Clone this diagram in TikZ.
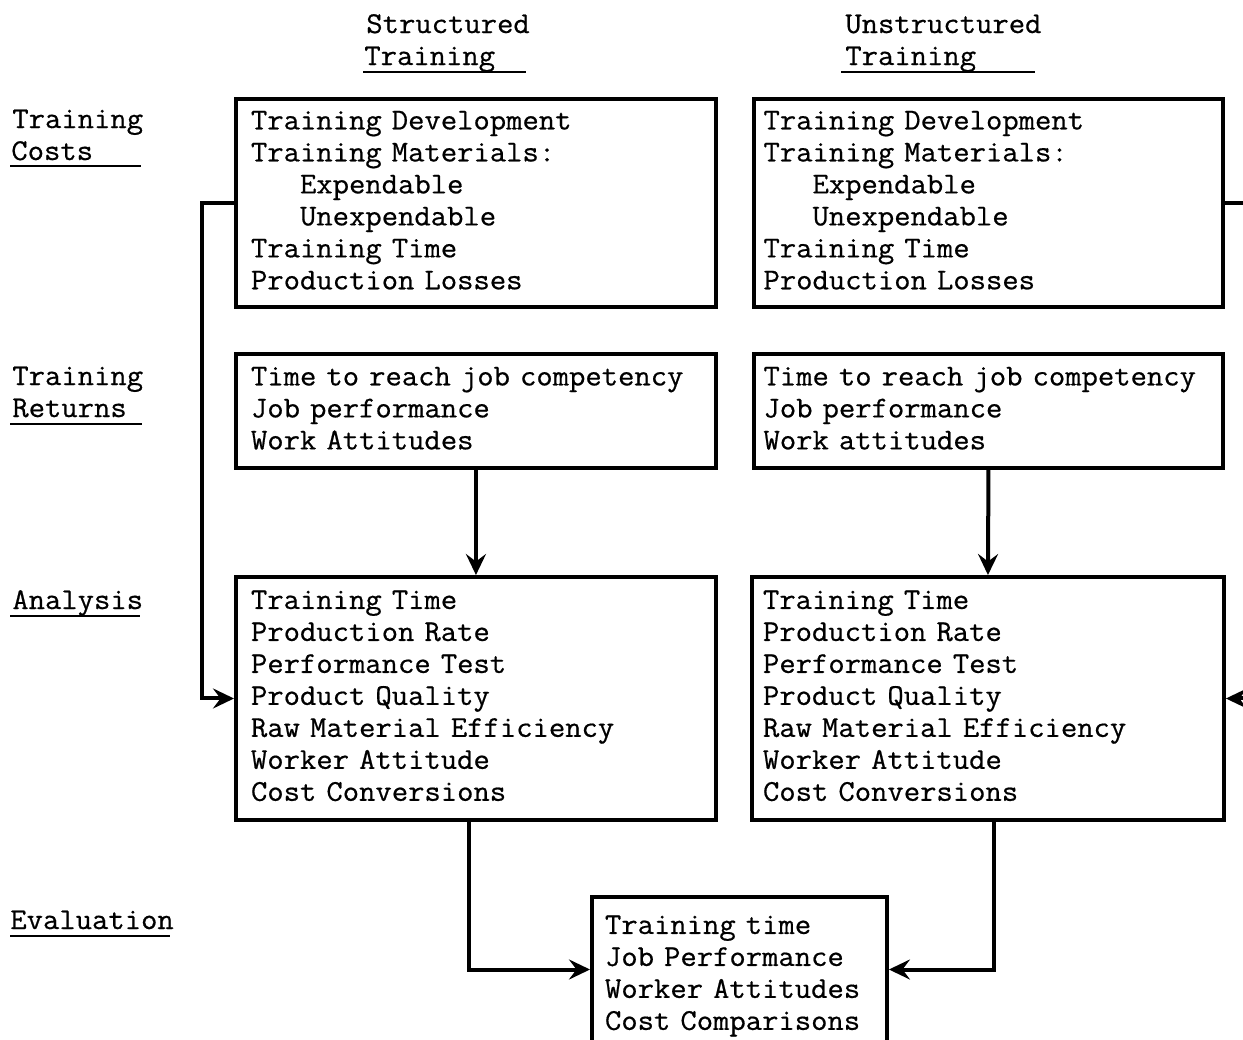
\documentclass[tikz,border=0pt]{standalone}
\usepackage{fontspec}
\setmonofont{Latin Modern Mono}[FakeBold=0.6, FakeStretch=1.05]
\usetikzlibrary{arrows.meta, positioning}
\newcommand\typewriter{\ttfamily\fontsize{17.2}{18.2}\selectfont\spaceskip=0.55em\relax}

\begin{document}
\begin{tikzpicture}[
		x=0.02cm, y=-0.02cm,
		every node/.style={font=\typewriter},
		box/.style={draw, line width=0.08cm, anchor=north west, align=left, inner ysep=0pt,
			execute at begin node=\strut, execute at end node=\strut},
		side/.style={anchor=base west, inner sep=0pt},
		uline/.style={line width=0.045cm},
		wire/.style={line width=0.08cm},
		arrow/.style={-{Stealth[length=0.42cm, width=0.4cm, inset=0.15cm]}, line width=0.08cm}
	]
	\useasboundingbox (0,0) rectangle (1243,1039);
	\clip (0,0) rectangle (1243,1039);

		% Column heads
		\node[side] (shead) at (366,33) {Structured};
		\node[side] (strain) at (364,65) {Training};
		\node[side] (uhead) at (845,33) {Unstructured};
		\node[side] (utrain) at (845,65) {Training};

		% Row labels
		\node[side] (costa) at (12,128) {Training};
		\node[side] (costb) at (11,160) {Costs};
		\node[side] (reta) at (12,385) {Training};
		\node[side] (retb) at (12,417) {Returns};
		\node[side] (ana) at (12,609) {Analysis};
		\node[side] (eva) at (10,929) {Evaluation};

		% Underlines
		\draw[uline] ([shift={(-1,7)}]strain.base west) -- ++(163,0);
		\draw[uline] ([shift={(-4,7)}]utrain.base west) -- ++(194,0);
		\draw[uline] ([shift={(-1,6)}]costb.base west) -- ++(131,0);
		\draw[uline] ([shift={(-2,7)}]retb.base west) -- ++(132,0);
		\draw[uline] ([shift={(-2,7)}]ana.base west) -- ++(130,0);
		\draw[uline] ([shift={(0,7)}]eva.base west) -- ++(160,0);

		% Boxes
		\node[box, text width=9cm, inner xsep=0.3cm, minimum height=4.16cm] (scost) at (234,97)
			{Training Development\\Training Materials:\\\phantom{xxx}Expendable\\\phantom{xxx}Unexpendable\\Training Time\\Production Losses};
		\node[box, text width=9cm, inner xsep=0.19cm, minimum height=4.16cm] (ucost) at (752,97)
			{Training Development\\Training Materials:\\\phantom{xxx}Expendable\\\phantom{xxx}Unexpendable\\Training Time\\Production Losses};
		\node[box, text width=9cm, inner xsep=0.3cm, minimum height=2.28cm] (sret) at (234,352)
			{\mbox{Time to reach job competency}\\Job performance\\Work Attitudes};
		\node[box, text width=9cm, inner xsep=0.19cm, minimum height=2.28cm] (uret) at (752,352)
			{\mbox{Time to reach job competency}\\Job performance\\Work attitudes};
		\node[box, text width=9cm, inner xsep=0.3cm, minimum height=4.86cm] (sana) at (234,575)
			{Training Time\\Production Rate\\Performance Test\\Product Quality\\Raw Material Efficiency\\Worker Attitude\\Cost Conversions};
		\node[box, text width=9cm, inner xsep=0.22cm, minimum height=4.86cm] (uana) at (750,575)
			{Training Time\\Production Rate\\Performance Test\\Product Quality\\Raw Material Efficiency\\Worker Attitude\\Cost Conversions};
		\node[box, text width=5.38cm, inner xsep=0.26cm, minimum height=3.14cm] (eval) at (590,895)
			{Training time\\Job Performance\\Worker Attitudes\\Cost Comparisons};

		% Right edge
		\coordinate (redge) at (1260,0);

		% Arrows
		\draw[arrow] (scost.west) -- ++(-32,0) |- (sana.west);
		\draw[wire] (ucost.east) -- (ucost.east -| redge);
		\draw[arrow] (uana.east -| redge) -- (uana.east);
		\draw[arrow] (sret.south) -- (sana.north);
		\draw[arrow] (uret.south) -- (uana.north);
		\draw[arrow] ([xshift=-0.14cm]sana.south) |- ([yshift=0.12cm]eval.west);
		\draw[arrow] ([xshift=0.12cm]uana.south) |- ([yshift=0.12cm]eval.east);

\end{tikzpicture}
\end{document}
